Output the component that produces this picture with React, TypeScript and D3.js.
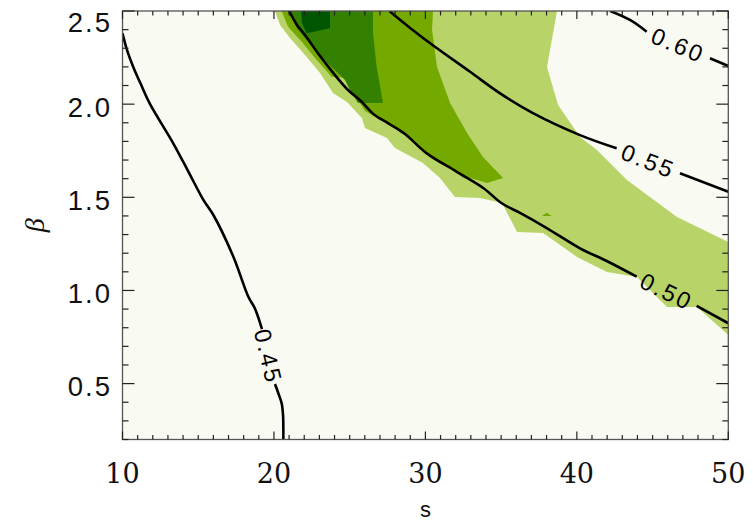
import React from 'react';
import * as d3 from 'd3';

const W = 753;
const H = 521;
const margin = { left: 122.5, right: 24.7, top: 11, bottom: 81.5 };

const sDomain = [10, 50];
const betaDomain = [0.2, 2.5];
const sTicks = [10, 20, 30, 40, 50];
const betaTicks = [0.5, 1.0, 1.5, 2.0, 2.5];

// filled levels, lowest to highest
const levelColors = ['#b8d468', '#74aa00', '#348000', '#005500'];

const lightRegion = [
  [20.07, 2.5], [20.4, 2.425], [21.06, 2.355], [22.05, 2.264], [23.04, 2.167],
  [23.9, 2.06], [24.82, 2.012], [25.81, 1.926], [26.01, 1.872], [27.46, 1.818],
  [27.99, 1.765], [29.84, 1.684], [30.96, 1.604], [31.95, 1.502], [33.6, 1.496],
  [35.06, 1.469], [36.05, 1.314], [37.77, 1.308], [40.01, 1.18], [41.99, 1.099],
  [43.97, 1.072], [45.95, 0.911], [47.93, 0.911], [50.0, 0.761], [50.0, 1.26],
  [46.61, 1.394], [43.31, 1.593], [41.33, 1.754], [40.21, 1.824], [38.76, 1.995],
  [38.03, 2.199], [38.69, 2.5],
];
const midRegion = [
  [20.51, 2.5], [20.93, 2.416], [21.83, 2.335], [22.71, 2.248], [23.81, 2.147],
  [24.89, 2.14], [25.22, 2.065], [26.01, 1.963], [27.2, 1.91], [27.99, 1.883],
  [30.11, 1.727], [31.63, 1.657], [32.75, 1.609], [34.07, 1.577], [35.13, 1.604],
  [33.8, 1.716], [32.75, 1.845], [31.63, 2.006], [30.77, 2.199], [30.44, 2.398],
  [30.5, 2.5],
];
const midSpot = [[37.68, 1.4], [38.01, 1.417], [38.34, 1.4]];
const darkRegion = [
  [21.06, 2.5], [21.5, 2.409], [22.25, 2.335], [23.15, 2.248], [24.14, 2.174],
  [24.69, 2.13], [25.02, 2.076], [25.55, 2.006], [27.2, 2.006], [26.78, 2.201],
  [26.54, 2.382], [26.54, 2.5],
];
const darkestRegion = [
  [21.79, 2.5], [23.7, 2.5], [23.7, 2.407], [22.16, 2.38], [21.85, 2.436],
];

const regions = [
  { level: 0, pts: lightRegion },
  { level: 1, pts: midRegion },
  { level: 1, pts: midSpot },
  { level: 2, pts: darkRegion },
  { level: 3, pts: darkestRegion },
];

// contour lines, split where the label sits
const c045a = [
  [10.0, 2.38], [10.3, 2.29], [10.71, 2.2], [11.25, 2.1], [11.82, 2.0],
  [13.35, 1.79], [14.4, 1.63], [15.34, 1.486], [16.0, 1.405], [17.32, 1.181],
  [18.31, 0.966], [18.75, 0.902], [19.21, 0.793],
];
const c045b = [[20.07, 0.498], [20.29, 0.448], [20.51, 0.394], [20.6, 0.331], [20.62, 0.2]];
const c050a = [
  [21.0, 2.5], [21.52, 2.425], [22.05, 2.371], [23.04, 2.258], [24.03, 2.156],
  [24.89, 2.076], [25.79, 2.013], [26.56, 1.947], [27.55, 1.897], [28.65, 1.84],
  [30.09, 1.736], [32.07, 1.637], [33.82, 1.55], [35.04, 1.468], [36.25, 1.416],
  [38.01, 1.335], [40.21, 1.226], [41.97, 1.158], [43.95, 1.074],
];
const c050b = [[47.91, 0.917], [50.0, 0.824]];
const c055a = [
  [27.62, 2.5], [28.99, 2.409], [30.31, 2.327], [32.95, 2.174], [34.93, 2.058],
  [37.1, 1.952], [40.21, 1.834], [42.63, 1.763],
];
const c055b = [[46.81, 1.629], [50.0, 1.53]];
const c060a = [[42.2, 2.5], [43.51, 2.452], [44.61, 2.389]];
const c060b = [[48.79, 2.246], [50.0, 2.205]];

const contours = [
  { label: '0.45', a: c045a, b: c045b },
  { label: '0.50', a: c050a, b: c050b },
  { label: '0.55', a: c055a, b: c055b },
  { label: '0.60', a: c060a, b: c060b },
];

export default function App() {
  const x = d3.scaleLinear().domain(sDomain).range([margin.left, W - margin.right]);
  const y = d3.scaleLinear().domain(betaDomain).range([H - margin.bottom, margin.top]);
  const [x0, x1] = x.range();
  const [y0, y1] = y.range(); // y0 bottom, y1 top

  const area = d3.line<number[]>().x(d => x(d[0])).y(d => y(d[1]));
  const curve = d3.line<number[]>().x(d => x(d[0])).y(d => y(d[1])).curve(d3.curveCatmullRom.alpha(0.5));

  const sMinor = d3.range(sDomain[0], sDomain[1] + 0.001, 1);
  const betaMinor = d3.range(2, 26).map(v => v / 10);

  const tickColor = '#222';

  return (
    <svg width={W} height={H} style={{ position: 'absolute', left: 0, top: 0, background: '#fff' }}>
      <defs>
        <clipPath id="plot">
          <rect x={x0} y={y1} width={x1 - x0} height={y0 - y1} />
        </clipPath>
      </defs>
      <rect x={x0} y={y1} width={x1 - x0} height={y0 - y1} fill="#f9faf2" />
      <g clipPath="url(#plot)">
        {regions.map((r, i) => (
          <path key={i} d={area(r.pts) + 'Z'} fill={levelColors[r.level]} />
        ))}
        {contours.map(c => (
          <g key={c.label} fill="none" stroke="#000" strokeWidth={2.6} strokeLinejoin="round">
            <path d={curve(c.a) || ''} />
            <path d={curve(c.b) || ''} />
          </g>
        ))}
      </g>
      {contours.map(c => {
        const e = c.a[c.a.length - 1];
        const s = c.b[0];
        const ax = x(e[0]), ay = y(e[1]), bx = x(s[0]), by = y(s[1]);
        const ang = (Math.atan2(by - ay, bx - ax) * 180) / Math.PI;
        return (
          <text
            key={c.label}
            transform={`translate(${(ax + bx) / 2},${(ay + by) / 2}) rotate(${ang})`}
            textAnchor="middle"
            dy="0.36em"
            fontFamily="Liberation Sans, Arial, sans-serif"
            fontSize={23.5}
            letterSpacing={2.5}
            fill="#000"
          >
            {c.label}
          </text>
        );
      })}

      {/* frame */}
      <rect x={x0} y={y1} width={x1 - x0} height={y0 - y1} fill="none" stroke="#555" strokeWidth={1.3} />

      {/* x ticks, bottom and top */}
      {sMinor.map(v => {
        const major = Math.round(v) % 10 === 0;
        const len = major ? 8 : 4.5;
        return (
          <g key={'sx' + v} stroke={tickColor} strokeWidth={1.2}>
            <line x1={x(v)} x2={x(v)} y1={y0} y2={y0 - len} />
            <line x1={x(v)} x2={x(v)} y1={y1} y2={y1 + len} />
          </g>
        );
      })}
      {/* y ticks, left and right */}
      {betaMinor.map(v => {
        const major = betaTicks.some(t => Math.abs(t - v) < 1e-6);
        const len = major ? 12 : 6;
        return (
          <g key={'by' + v} stroke={tickColor} strokeWidth={1.2}>
            <line x1={x0} x2={x0 + len} y1={y(v)} y2={y(v)} />
            <line x1={x1} x2={x1 - len} y1={y(v)} y2={y(v)} />
          </g>
        );
      })}

      {sTicks.map(t => (
        <text
          key={'sl' + t}
          x={x(t)}
          y={483}
          textAnchor="middle"
          fontFamily="DejaVu Serif, serif"
          fontSize={27}
          fill="#111"
        >
          {t}
        </text>
      ))}
      {betaTicks.map(t => (
        <text
          key={'bl' + t}
          x={x0 - 10.5}
          y={Math.max(y(t) + 12.5, y1 + 20.7)}
          textAnchor="end"
          fontFamily="Liberation Sans, Arial, sans-serif"
          fontSize={27.5}
          letterSpacing={2}
          fill="#111"
        >
          {t.toFixed(1)}
        </text>
      ))}

      <text
        x={(x0 + x1) / 2}
        y={517}
        textAnchor="middle"
        fontFamily="Liberation Sans, Arial, sans-serif"
        fontSize={22}
        fill="#111"
      >
        s
      </text>
      <text
        transform={`translate(44,${(y0 + y1) / 2}) rotate(-90)`}
        textAnchor="middle"
        fontFamily="Liberation Serif, serif"
        fontStyle="italic"
        fontSize={28}
        fill="#111"
      >
        β
      </text>
    </svg>
  );
}
